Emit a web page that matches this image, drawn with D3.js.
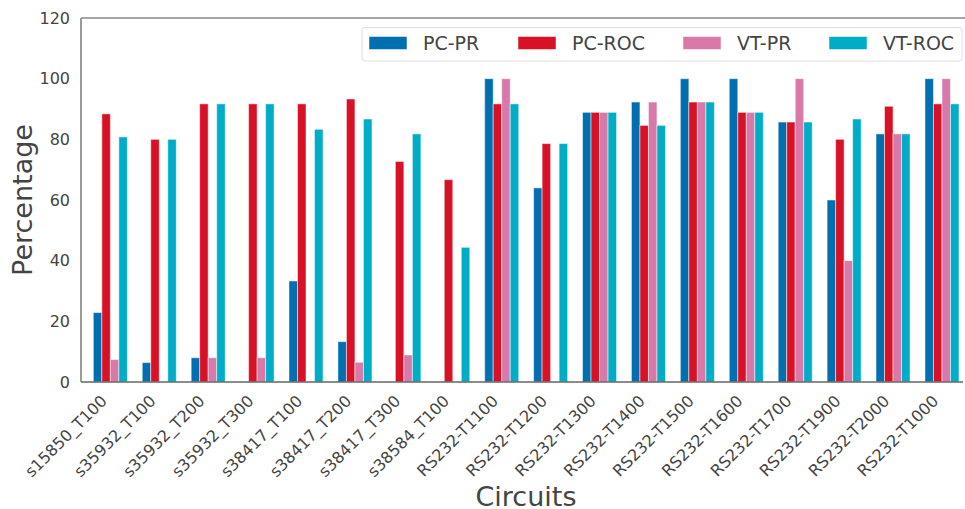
<!DOCTYPE html>
<html>
<head>
<meta charset="utf-8">
<script src="https://cdn.jsdelivr.net/npm/d3@7"></script>
<style>
  body { margin: 0; background: #fff; }
  text { font-family: "DejaVu Sans", sans-serif; fill: #444; }
  .tituloeixo { font-size: 27px; }
  .rotulo { font-size: 16px; }
</style>
</head>
<body>
<svg id="grafico"></svg>
<script>

//Data
var circuitos = ['s15850_T100', 's35932_T100', 's35932_T200', 's35932_T300', 's38417_T100',
                 's38417_T200', 's38417_T300', 's38584_T100', 'RS232-T1100', 'RS232-T1200',
                 'RS232-T1300', 'RS232-T1400', 'RS232-T1500', 'RS232-T1600', 'RS232-T1700',
                 'RS232-T1900', 'RS232-T2000', 'RS232-T1000'];

var series = ['PC-PR', 'PC-ROC', 'VT-PR', 'VT-ROC'];

var pcPR  = [22.9, 6.4, 8.0, 0, 33.3, 13.3, 0, 0, 100, 64.0, 88.9, 92.3, 100, 100, 85.7, 60, 81.8, 100];
var pcROC = [88.4, 80, 91.7, 91.7, 91.7, 93.3, 72.7, 66.7, 91.7, 78.6, 88.9, 84.6, 92.3, 88.9, 85.7, 80, 90.9, 91.7];
var vtPR  = [7.4, 0, 8.0, 8.0, 0, 6.5, 8.9, 0, 100, 0, 88.9, 92.3, 92.3, 88.9, 100, 40, 81.8, 100];
var vtROC = [80.8, 80, 91.7, 91.7, 83.3, 86.7, 81.8, 44.4, 91.7, 78.6, 88.9, 84.6, 92.3, 88.9, 85.7, 86.7, 81.8, 91.7];

var ticksY = [0, 20, 40, 60, 80, 100, 120];

var cores = ['#006fb0', '#d91126', '#d879aa', '#00adc6'];

//Chart size and plotting area
var largura = 965, altura = 509;
var margem = { esquerda: 81, direita: 2, superior: 18, inferior: 127 };
var larguraPlotagem = largura - margem.esquerda - margem.direita;
var alturaPlotagem = altura - margem.superior - margem.inferior;

var svg = d3.select('#grafico')
            .attr('width', largura)
            .attr('height', altura);

var plotagem = svg.append('g')
                  .attr('transform', 'translate(' + margem.esquerda + ',' + margem.superior + ')');

//Scales
var x = d3.scaleLinear()
          .domain([-0.6, 17.43])
          .range([0, larguraPlotagem]);
var y = d3.scaleLinear()
          .domain([0, 120])
          .range([alturaPlotagem, 0]);
var larguraBarra = 0.174;

var dados = [];
[pcPR, pcROC, vtPR, vtROC].forEach(function(valores, s) {
    valores.forEach(function(v, i) {
        dados.push({ serie: s, indice: i, valor: v });
    });
});

//Bars
plotagem.selectAll('.barra')
        .data(dados)
        .enter()
        .append('rect')
        .classed('barra', true)
        .attr('x', d => x(d.indice + (d.serie - 2) * larguraBarra))
        .attr('y', d => y(d.valor))
        .attr('width', x(larguraBarra) - x(0))
        .attr('height', d => alturaPlotagem - y(d.valor))
        .attr('fill', d => cores[d.serie])
        .attr('stroke', '#fff')
        .attr('stroke-opacity', 0.5)
        .attr('stroke-width', 1);

//Axes (no tick marks, gray spines)
var eixoY = d3.axisLeft(y).tickValues(ticksY).tickSize(0).tickPadding(11);
var gy = plotagem.append('g').call(eixoY);
gy.select('.domain').remove();
gy.selectAll('text').classed('rotulo', true).attr('fill', '#444');

var eixoX = d3.axisBottom(x)
              .tickValues(d3.range(circuitos.length))
              .tickFormat(i => circuitos[i])
              .tickSize(0);
var gx = plotagem.append('g')
                 .attr('transform', 'translate(0,' + alturaPlotagem + ')')
                 .call(eixoX);
gx.select('.domain').remove();
gx.selectAll('text')
  .classed('rotulo', true)
  .attr('fill', '#444')
  .attr('y', 0)
  .attr('dy', 0)
  .attr('text-anchor', 'end')
  .attr('transform', 'translate(-3,20) rotate(-45)');

//Spines: left, bottom, top
plotagem.append('line').attr('x1', 0).attr('x2', 0).attr('y1', 0).attr('y2', alturaPlotagem)
        .attr('stroke', '#666').attr('stroke-width', 1.3);
plotagem.append('line').attr('x1', 0).attr('x2', larguraPlotagem).attr('y1', alturaPlotagem).attr('y2', alturaPlotagem)
        .attr('stroke', '#666').attr('stroke-width', 1.3);
plotagem.append('line').attr('x1', 0).attr('x2', larguraPlotagem + 2).attr('y1', 0).attr('y2', 0)
        .attr('stroke', '#888').attr('stroke-width', 1.3);

//Axis titles
svg.append('text')
   .classed('tituloeixo', true)
   .attr('text-anchor', 'middle')
   .attr('transform', 'translate(32,' + (margem.superior + alturaPlotagem / 2) + ') rotate(-90)')
   .text('Percentage');
svg.append('text')
   .classed('tituloeixo', true)
   .attr('text-anchor', 'middle')
   .attr('x', 526)
   .attr('y', 506)
   .text('Circuits');

//Legend
var legenda = svg.append('g');
legenda.append('rect')
       .attr('x', 362).attr('y', 27.5)
       .attr('width', 600).attr('height', 33.5)
       .attr('rx', 3)
       .attr('fill', '#fff')
       .attr('stroke', '#ddd');
var posLegenda = [369, 518, 683, 829];
series.forEach(function(nome, s) {
    legenda.append('rect')
           .attr('x', posLegenda[s]).attr('y', 36.5)
           .attr('width', 38).attr('height', 13)
           .attr('fill', cores[s])
           .attr('stroke', '#fff').attr('stroke-opacity', 0.5);
    legenda.append('text')
           .attr('x', posLegenda[s] + 54).attr('y', 50)
           .style('font-size', '19px')
           .text(nome);
});

</script>
</body>
</html>
